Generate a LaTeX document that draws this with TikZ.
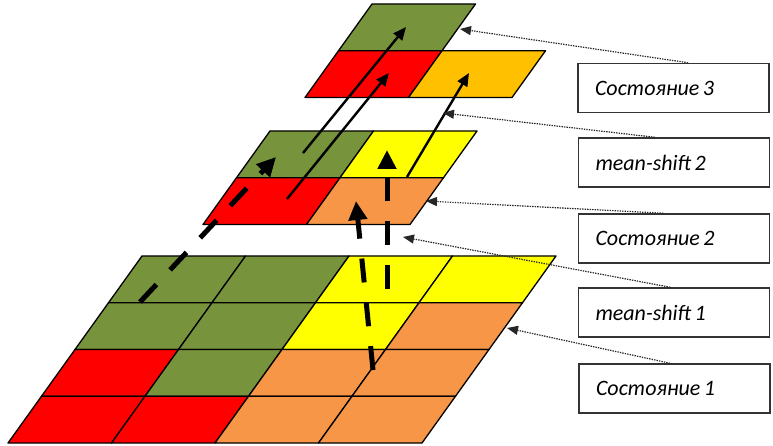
\documentclass[tikz,border=0pt]{standalone}
\usepackage{fontspec}
\setmainfont{Carlito}
\usetikzlibrary{arrows.meta,calc}
\definecolor{cgreen}{HTML}{77933C}
\definecolor{cred}{HTML}{FF0000}
\definecolor{cyellow}{HTML}{FFFF00}
\definecolor{corange}{HTML}{F79646}
\definecolor{camber}{HTML}{FFC000}
\definecolor{cbox}{HTML}{333333}
\newcommand\cellw{103.5}
\newcommand\cellh{46.75}
\newcommand\cellsh{33.5}
\newcommand\nsp{\hspace{0.16em}}
% origin x, origin y, column, row, colour
\newcommand\pcell[5]{%
  \filldraw[cellst,fill=#5] ({#1+#3*\cellw-#4*\cellsh},{#2+#4*\cellh})
    -- ++(\cellw,0) -- ++(-\cellsh,\cellh) -- ++(-\cellw,0) -- cycle;}
\tikzset{
  cellst/.style={draw=black,line width=1.3pt,line join=round},
  dasharrow/.style={line width=5pt,dash pattern=on 24pt off 20pt,
    -{Triangle[length=19pt,width=18pt]}},
  solidarrow/.style={line width=2.4pt,-{Triangle[length=13pt,width=11pt]}},
  leader/.style={draw=black!85,line width=1.2pt,dash pattern=on 1.4pt off 1.1pt,
    -{Triangle[length=11pt,width=9pt]}},
  labelbox/.style={draw=cbox,line width=1.5pt,inner xsep=17pt,text width=157pt,
    minimum height=49pt,align=left,font=\fontsize{22}{26}\selectfont\itshape}
}
\begin{document}
\begin{tikzpicture}[x=1pt,y=-1pt]
\useasboundingbox (0,0) rectangle (773,446);
% bottom grid (state 1)
\pcell{142}{256}{0}{0}{cgreen}\pcell{142}{256}{1}{0}{cgreen}\pcell{142}{256}{2}{0}{cyellow}\pcell{142}{256}{3}{0}{cyellow}
\pcell{142}{256}{0}{1}{cgreen}\pcell{142}{256}{1}{1}{cgreen}\pcell{142}{256}{2}{1}{cyellow}\pcell{142}{256}{3}{1}{corange}
\pcell{142}{256}{0}{2}{cred}\pcell{142}{256}{1}{2}{cgreen}\pcell{142}{256}{2}{2}{corange}\pcell{142}{256}{3}{2}{corange}
\pcell{142}{256}{0}{3}{cred}\pcell{142}{256}{1}{3}{cred}\pcell{142}{256}{2}{3}{corange}\pcell{142}{256}{3}{3}{corange}
% middle grid (state 2)
\pcell{270}{131}{0}{0}{cgreen}\pcell{270}{131}{1}{0}{cyellow}
\pcell{270}{131}{0}{1}{cred}\pcell{270}{131}{1}{1}{corange}
% top grid (state 3)
\pcell{372}{4}{0}{0}{cgreen}
\pcell{372}{4}{0}{1}{cred}\pcell{372}{4}{1}{1}{camber}
% arrow end points
\coordinate (d1s) at (140,302); \coordinate (d1e) at (276,157);
\coordinate (d2s) at (373,370); \coordinate (d2e) at (356,201);
\coordinate (d3s) at (387,289); \coordinate (d3e) at (387,150);
\coordinate (s1s) at (303,153); \coordinate (s1e) at (406,27);
\coordinate (s2s) at (287,199); \coordinate (s2e) at (389,73);
\coordinate (s3s) at (407,177); \coordinate (s3e) at (469,73);
% mean-shift 1 (dashed)
\draw[dasharrow] (d1s) -- (d1e);
\draw[dasharrow] (d2s) -- (d2e);
\draw[dasharrow] (d3s) -- (d3e);
% mean-shift 2 (solid)
\draw[solidarrow] (s1s) -- (s1e);
\draw[solidarrow] (s2s) -- (s2e);
\draw[solidarrow] (s3s) -- (s3e);
% label boxes
\node[labelbox] (b3) at (673.5,88) {Состояние\nsp3};
\node[labelbox] (m2) at (674,162.5) {mean-shift\nsp2};
\node[labelbox] (b2) at (674,238.5) {Состояние\nsp2};
\node[labelbox] (m1) at (674,312.5) {mean-shift\nsp1};
\node[labelbox] (b1) at (674.5,388.5) {Состояние\nsp1};
% leader targets
\coordinate (t3) at (460,29);
\coordinate (tm2) at (443,113);
\coordinate (t2) at (426,201);
\coordinate (tm1) at (403,237);
\coordinate (t1) at (507,328);
\draw[leader] ($(b3.north west)!0.576!(b3.north east)$) -- (t3);
\draw[leader] ($(m2.north west)!0.40!(m2.north east)$) -- (tm2);
\draw[leader] ($(b2.north west)!0.445!(b2.north east)$) -- (t2);
\draw[leader] ($(m1.north west)!0.48!(m1.north east)$) -- (tm1);
\draw[leader] ($(b1.north west)!0.477!(b1.north east)$) -- (t1);
\end{tikzpicture}
\end{document}
